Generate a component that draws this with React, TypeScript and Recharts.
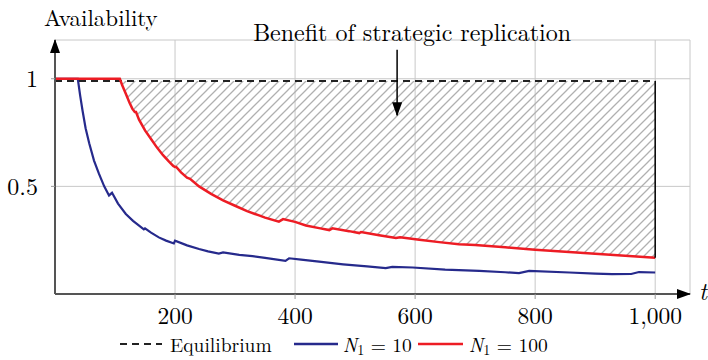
import {
  Area,
  CartesianGrid,
  ComposedChart,
  Legend,
  Line,
  ReferenceDot,
  ReferenceLine,
  XAxis,
  YAxis,
} from "recharts"

const redT = [
  0, 108, 112, 118, 124, 129, 133, 135, 140, 150, 160, 170, 180, 190, 197, 200,
  202, 210, 220, 225, 240, 260, 280, 300, 320, 340, 350, 373, 380, 400, 418,
  440, 457, 462, 490, 507, 510, 540, 568, 575, 607, 640, 673, 700, 750, 800,
  850, 900, 950, 1000,
]
const redV = [
  1.0, 1.0, 0.97, 0.93, 0.89, 0.86, 0.845, 0.845, 0.81, 0.76, 0.72, 0.68,
  0.645, 0.615, 0.595, 0.59, 0.59, 0.565, 0.54, 0.535, 0.5, 0.465, 0.435, 0.41,
  0.385, 0.365, 0.355, 0.336, 0.348, 0.335, 0.318, 0.306, 0.297, 0.305, 0.292,
  0.283, 0.288, 0.273, 0.26, 0.264, 0.252, 0.241, 0.231, 0.228, 0.217, 0.206,
  0.196, 0.187, 0.178, 0.168,
]

const blueT = [
  0, 38, 42, 46, 51, 57, 65, 73, 82, 90, 95, 105, 118, 130, 148, 150, 160, 173,
  185, 198, 200, 220, 240, 255, 273, 280, 307, 329, 350, 384, 390, 410, 440,
  480, 520, 551, 562, 596, 650, 707, 750, 773, 790, 857, 900, 928, 960, 973,
  1000,
]
const blueV = [
  1.0, 1.0, 0.92, 0.85, 0.77, 0.7, 0.62, 0.56, 0.5, 0.458, 0.47, 0.42, 0.372,
  0.34, 0.3, 0.305, 0.285, 0.263, 0.248, 0.235, 0.248, 0.226, 0.209, 0.198,
  0.188, 0.193, 0.182, 0.176, 0.168, 0.154, 0.166, 0.16, 0.15, 0.138, 0.128,
  0.12, 0.126, 0.123, 0.113, 0.107, 0.101, 0.097, 0.107, 0.1, 0.095, 0.092,
  0.093, 0.102, 0.1,
]

const equilibriumT = [0, 1000]
const equilibriumV = [0.99, 0.99]

const xTicks = [200, 400, 600, 800, 1000]
const yTicks = [0.5, 1]

const benefitStart = 108
const arrowT = 570
const arrowFrom = 1.135
const arrowTo = 0.83

const RED = "#ed1c24"
const BLUE = "#262a8c"
const FONT = "'Latin Modern Roman', 'Liberation Serif', serif"

const redData = redT.map((t, i) => ({ t, v: redV[i] }))
const blueData = blueT.map((t, i) => ({ t, v: blueV[i] }))
const eqData = equilibriumT.map((t, i) => ({ t, v: equilibriumV[i] }))
const bandData = redData
  .filter((d) => d.t >= benefitStart)
  .map((d) => ({ t: d.t, range: [Math.min(d.v, equilibriumV[0]), equilibriumV[0]] }))
const lastRed = redData[redData.length - 1]

const Math1 = ({ n }: { n: string }) => (
  <span>
    <i>N</i>
    <sub style={{ fontSize: 14, verticalAlign: -3, lineHeight: 0 }}>1</sub>
    {" = " + n}
  </span>
)

const LegendContent = () => (
  <div
    style={{
      display: "flex",
      alignItems: "center",
      paddingLeft: 120,
      height: 24,
      lineHeight: "24px",
      fontFamily: FONT,
      fontSize: 19.5,
      color: "#000",
    }}
  >
    <svg width={42} height={10}>
      <line x1={0} y1={5} x2={42} y2={5} stroke="#222" strokeWidth={2} strokeDasharray="7 5" />
    </svg>
    <span style={{ marginLeft: 8 }}>Equilibrium</span>
    <svg width={44} height={10} style={{ marginLeft: 22 }}>
      <line x1={0} y1={5} x2={44} y2={5} stroke={BLUE} strokeWidth={2.5} />
    </svg>
    <span style={{ marginLeft: 5 }}>
      <Math1 n="10" />
    </span>
    <svg width={45} height={10} style={{ marginLeft: 6 }}>
      <line x1={0} y1={5} x2={45} y2={5} stroke={RED} strokeWidth={2.5} />
    </svg>
    <span style={{ marginLeft: 6 }}>
      <Math1 n="100" />
    </span>
  </div>
)

export default function App() {
  return (
    <div style={{ fontFamily: FONT, width: 708, height: 360, position: "relative" }}>
      <style>{`body{margin:0}`}</style>
      <ComposedChart width={708} height={360} margin={{ top: 40, right: 18, left: 0, bottom: 30 }}>
        <defs>
          <pattern id="hatch" patternUnits="userSpaceOnUse" width={9} height={9}>
            <path
              d="M-2,2 L2,-2 M0,9 L9,0 M7,11 L11,7"
              stroke="#b0b0b0"
              strokeWidth={1.3}
            />
          </pattern>
          <marker
            id="arrowhead"
            viewBox="0 0 14 10"
            refX={13}
            refY={5}
            markerWidth={14}
            markerHeight={10}
            markerUnits="userSpaceOnUse"
            orient="auto-start-reverse"
          >
            <path d="M0,0 L14,5 L0,10 z" fill="#000" />
          </marker>
        </defs>
        <CartesianGrid stroke="#c8c8c8" strokeWidth={1} />
        <XAxis
          type="number"
          dataKey="t"
          domain={[0, 1058]}
          ticks={xTicks}
          allowDataOverflow
          tickFormatter={(v: number) => v.toLocaleString("en-US")}
          tick={{ fill: "#000", fontSize: 23.5, fontFamily: FONT }}
          tickLine={{ stroke: "#999" }}
          tickSize={5}
          tickMargin={8}
          height={36}
          axisLine={{ stroke: "#555", strokeWidth: 2, markerEnd: "url(#arrowhead)" }}
          label={{
            content: (props: any) => {
              const vb = props.viewBox
              return (
                <text
                  x={vb.x + vb.width + 9}
                  y={vb.y + 6}
                  fontSize={24}
                  fontStyle="italic"
                  fontFamily={FONT}
                  fill="#000"
                >
                  t
                </text>
              )
            },
          }}
        />
        <YAxis
          type="number"
          domain={[0, 1.18]}
          ticks={yTicks}
          allowDataOverflow
          width={55}
          tick={{ fill: "#000", fontSize: 24, fontFamily: FONT }}
          tickLine={{ stroke: "#999" }}
          tickSize={4}
          tickMargin={13}
          axisLine={{ stroke: "#555", strokeWidth: 2, markerStart: "url(#arrowhead)" }}
          label={{
            content: (props: any) => {
              const vb = props.viewBox
              return (
                <text x={vb.x + 44} y={vb.y - 14} fontSize={23} fontFamily={FONT} fill="#000">
                  Availability
                </text>
              )
            },
          }}
        />
        <Area
          data={bandData}
          dataKey="range"
          type="linear"
          stroke="none"
          fill="url(#hatch)"
          fillOpacity={1}
          isAnimationActive={false}
        />
        <Line
          data={eqData}
          dataKey="v"
          type="linear"
          stroke="#222"
          strokeWidth={2}
          strokeDasharray="7 5"
          dot={false}
          isAnimationActive={false}
        />
        <Line
          data={blueData}
          dataKey="v"
          type="linear"
          stroke={BLUE}
          strokeWidth={2.2}
          dot={false}
          isAnimationActive={false}
        />
        <Line
          data={redData}
          dataKey="v"
          type="linear"
          stroke={RED}
          strokeWidth={2.5}
          dot={false}
          isAnimationActive={false}
        />
        <ReferenceLine
          segment={[
            { x: lastRed.t, y: lastRed.v },
            { x: lastRed.t, y: equilibriumV[0] },
          ]}
          stroke="#000"
          strokeWidth={1.5}
        />
        <ReferenceLine
          segment={[
            { x: arrowT, y: arrowFrom },
            { x: arrowT, y: arrowTo },
          ]}
          stroke="#000"
          strokeWidth={1.5}
          markerEnd="url(#arrowhead)"
        />
        <ReferenceDot
          x={arrowT}
          y={arrowFrom}
          r={0}
          fill="none"
          stroke="none"
          label={{
            content: (props: any) => {
              const vb = props.viewBox
              return (
                <text
                  x={vb.x + 15}
                  y={vb.y - 9}
                  fontSize={24}
                  fontFamily={FONT}
                  fill="#000"
                  textAnchor="middle"
                >
                  Benefit of strategic replication
                </text>
              )
            },
          }}
        />
        <Legend
          verticalAlign="middle"
          content={() => <LegendContent />}
          wrapperStyle={{ left: 0, top: 332, width: 708, height: 24 }}
        />
      </ComposedChart>
    </div>
  )
}
